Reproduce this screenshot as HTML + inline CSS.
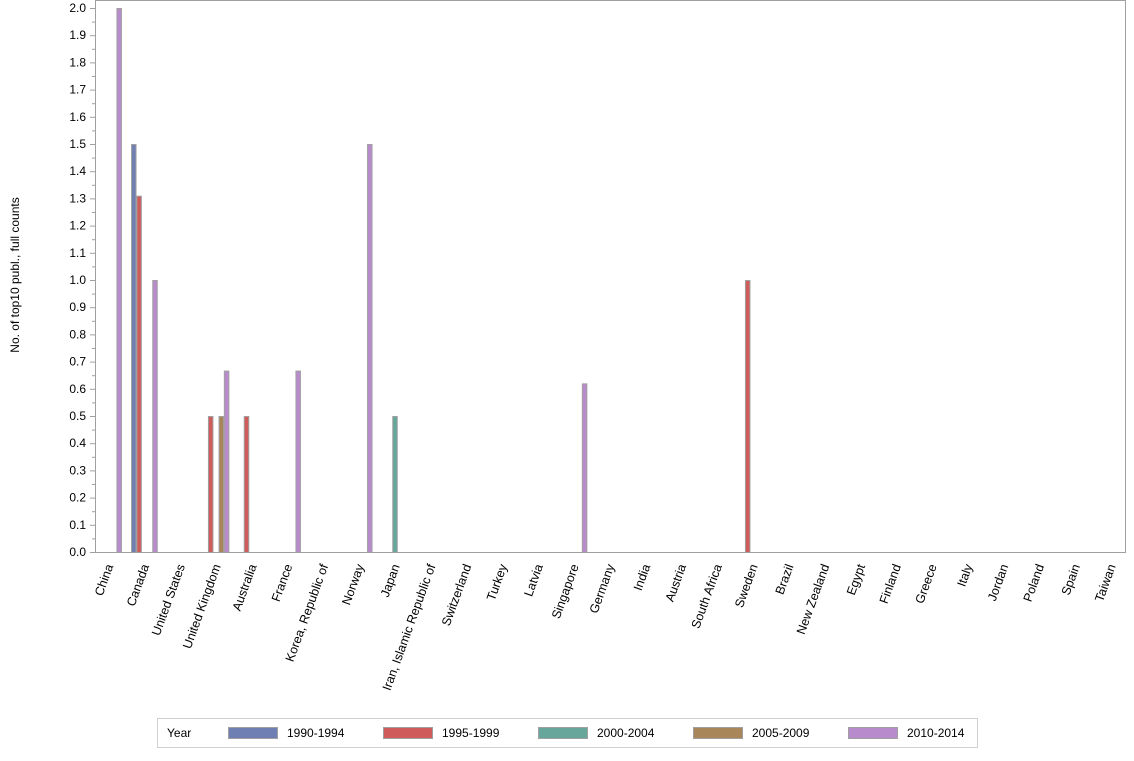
<!DOCTYPE html>
<html><head><meta charset="utf-8"><style>
body{margin:0;background:#fff;font-family:"Liberation Sans",Arial,sans-serif;}
svg text{font-family:"Liberation Sans",Arial,sans-serif;fill:#000;}
</style></head><body>
<svg id="chart" width="1134" height="756" xmlns="http://www.w3.org/2000/svg">
<rect x="95.5" y="0.5" width="1030" height="552" fill="#fff" stroke="#a0a0a0"/>
<g id="yaxis"></g><g id="bars"></g><g id="xlabels"></g>
<text transform="translate(19,275) rotate(-90)" text-anchor="middle" font-size="12">No. of top10 publ., full counts</text>
<g>
<rect x="157.5" y="718.5" width="820" height="29" fill="#fff" stroke="#d0d0d0"/>
<text x="167" y="737" font-size="12">Year</text>
<g id="legend-items"></g>
</g>
</svg>
<script>
const categories=["China","Canada","United States","United Kingdom","Australia","France","Korea, Republic of","Norway","Japan","Iran, Islamic Republic of","Switzerland","Turkey","Latvia","Singapore","Germany","India","Austria","South Africa","Sweden","Brazil","New Zealand","Egypt","Finland","Greece","Italy","Jordan","Poland","Spain","Taiwan"];
const seriesNames=["1990-1994","1995-1999","2000-2004","2005-2009","2010-2014"];
const seriesColors=["#6f7eb3","#d05b5b","#66a69b","#a8865a","#b88bcc"];
const s1990=[0,1.5,0,0,0,0,0,0,0,0,0,0,0,0,0,0,0,0,0,0,0,0,0,0,0,0,0,0,0];
const s1995=[0,1.31,0,0.5,0.5,0,0,0,0,0,0,0,0,0,0,0,0,0,1.0,0,0,0,0,0,0,0,0,0,0];
const s2000=[0,0,0,0,0,0,0,0,0.5,0,0,0,0,0,0,0,0,0,0,0,0,0,0,0,0,0,0,0,0];
const s2005=[0,0,0,0.5,0,0,0,0,0,0,0,0,0,0,0,0,0,0,0,0,0,0,0,0,0,0,0,0,0];
const s2010=[2.0,1.0,0,0.667,0,0.667,0,1.5,0,0,0,0,0,0.62,0,0,0,0,0,0,0,0,0,0,0,0,0,0,0];
const yTicks=[0,0.1,0.2,0.3,0.4,0.5,0.6,0.7,0.8,0.9,1.0,1.1,1.2,1.3,1.4,1.5,1.6,1.7,1.8,1.9,2.0];
const series=[s1990,s1995,s2000,s2005,s2010];
const NS="http://www.w3.org/2000/svg";
const y=v=>552-v*272;
const xc=i=>108.5+i*35.8;
const slot=5.3;
function mk(tag,attrs,parent){const e=document.createElementNS(NS,tag);for(const k in attrs)e.setAttribute(k,attrs[k]);parent.appendChild(e);return e;}
const ya=document.getElementById('yaxis');
yTicks.forEach(t=>{
  const l=mk('line',{x1:90,x2:95,y1:y(t)+0.5,y2:y(t)+0.5,stroke:'#a0a0a0'},ya);
  
  
  const m=mk('line',{x1:92,x2:95,y1:y(t+0.05)+0.5,y2:y(t+0.05)+0.5,stroke:'#a0a0a0'},ya);
  if(t>=2)m.remove();
  const tx=mk('text',{x:86,y:y(t)+4,'text-anchor':'end','font-size':'12'},ya);
  tx.textContent=t.toFixed(1);
  
  
});
const bg=document.getElementById('bars');
series.forEach((s,si)=>{
  s.forEach((v,i)=>{
    if(v<=0)return;
    const x0=xc(i)-2.5*slot+si*slot;
    const r=mk('rect',{x:x0+0.5,y:y(v)+0.5,width:slot-0.8,height:552-y(v),fill:seriesColors[si],stroke:'#a0a0a0','stroke-width':1},bg);
    
    
  });
});
const xl=document.getElementById('xlabels');
categories.forEach((c,i)=>{
  const t=mk('text',{transform:`translate(${xc(i)+5},566) rotate(-70)`,'text-anchor':'end','font-size':'12.5'},xl);
  t.textContent=c;
  
  
});
const lg=document.getElementById('legend-items');
seriesNames.forEach((n,i)=>{
  const r=mk('rect',{x:228.5+155*i,y:727.5,width:49,height:11,fill:seriesColors[i],stroke:'#a0a0a0'},lg);
  
  
  const t=mk('text',{x:287+155*i,y:737,'font-size':'12'},lg);
  t.textContent=n;
  
  
});
</script>
</body></html>
